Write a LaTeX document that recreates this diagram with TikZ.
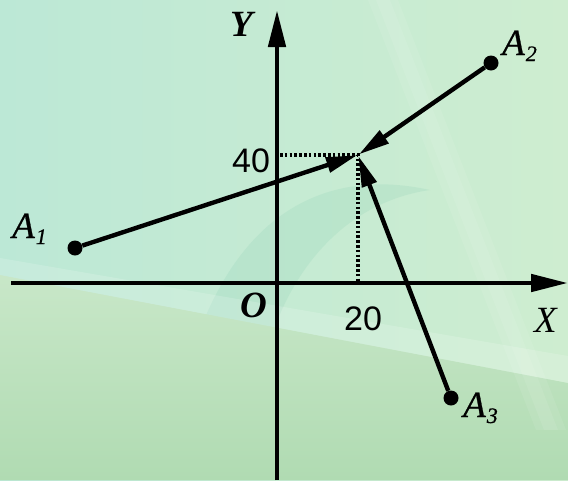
\documentclass[tikz,border=0pt]{standalone}
\usepackage{fontspec}
\setmainfont{Liberation Serif}
\newfontfamily\numfont{Liberation Sans}
\newfontfamily\afont[ItalicFeatures={FakeBold=0.7}]{Liberation Serif}
\usetikzlibrary{arrows.meta}
\definecolor{bgtop}{RGB}{188,232,214}
\definecolor{bgright}{RGB}{206,237,208}
\definecolor{bglow}{RGB}{200,231,200}
\definecolor{bgbot}{RGB}{176,219,178}
\definecolor{teal}{RGB}{150,212,186}
\begin{document}
\begin{tikzpicture}[x=1pt,y=-1pt,
  axisline/.style={line width=4.8pt,-{Triangle[length=37pt,width=17pt]}},
  vec/.style={line width=4.4pt,-{Triangle[length=31pt,width=15pt]},shorten >=1pt},
  guide/.style={line width=3.2pt,dash pattern=on 2.6pt off 2.2pt},
  pt/.style={circle,fill=black,inner sep=0pt,minimum size=15pt},
  lbl/.style={anchor=base west,inner sep=0pt,font=\fontsize{37}{37}\selectfont\afont\itshape},
  num/.style={anchor=base west,inner sep=0pt,font=\fontsize{34}{34}\selectfont\numfont}]
\useasboundingbox (0,0) rectangle (568,480);
% background
\shade[left color=bgtop,right color=bgright] (0,0) rectangle (568,480);
\fill[teal,opacity=0.25] (200,330) .. controls (250,200) and (340,170) .. (430,190) .. controls (360,200) and (300,250) .. (270,340) -- cycle;
\shade[top color=bglow,bottom color=bgbot] (0,275) -- (568,383) -- (568,480) -- (0,480) -- cycle;
\fill[white,opacity=0.16] (0,258) -- (568,356) -- (568,383) -- (0,275) -- cycle;
\fill[white,opacity=0.08] (368,0) -- (398,0) -- (566,430) -- (536,430) -- cycle;
\fill[white,opacity=0.08] (376,0) -- (390,0) -- (558,430) -- (544,430) -- cycle;
% axes
\coordinate (xs) at (11,283);
\coordinate (xe) at (568,283);
\coordinate (ys) at (277,480);
\coordinate (ye) at (277,10);
\draw[axisline] (xs) -- (xe);
\draw[axisline] (ys) -- (ye);
% points
\coordinate (P) at (358,155);
\coordinate (Py) at (280,155);
\coordinate (Px) at (358,281);
\node[pt] (A1) at (75,248) {};
\node[pt] (A2) at (491,63) {};
\node[pt] (A3) at (451,398) {};
% guides
\draw[guide] (Py) -- (P) -- (Px);
% vectors
\draw[vec] (A1) -- (P);
\draw[vec] (A2) -- (P);
\draw[vec] (A3) -- (P);
% labels
\node[lbl] (lA1) at (12,238) {A\kern1pt\raisebox{-6pt}{\fontsize{22}{22}\selectfont 1}};
\node[lbl] (lA2) at (502,55) {A\kern1pt\raisebox{-6pt}{\fontsize{22}{22}\selectfont 2}};
\node[lbl] (lA3) at (463,417) {A\kern1pt\raisebox{-6pt}{\fontsize{22}{22}\selectfont 3}};
\node[lbl,font=\fontsize{37}{37}\selectfont\bfseries\itshape] (lY) at (230,36) {Y};
\node[lbl,font=\fontsize{37}{37}\selectfont\itshape] (lX) at (534,332) {X};
\node[lbl,font=\fontsize{37}{37}\selectfont\bfseries\itshape] (lO) at (240,317) {O};
\node[num] (l40) at (232,172) {40};
\node[num] (l20) at (344,330) {20};
\end{tikzpicture}
\end{document}
